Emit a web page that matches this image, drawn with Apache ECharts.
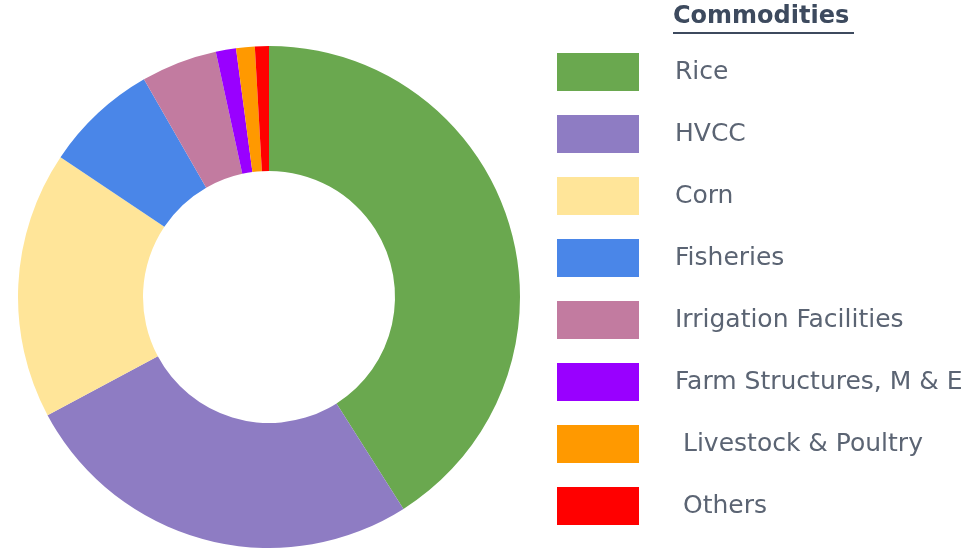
<!DOCTYPE html>
<html>
<head>
<meta charset="utf-8">
<script src="https://cdn.jsdelivr.net/npm/echarts@6/dist/echarts.min.js"></script>
<style>
  html, body { margin: 0; padding: 0; background: #fff; }
  #chart { width: 967px; height: 548px; }
</style>
</head>
<body>
<div id="chart"></div>
<script>
const commodities = ['Rice', 'HVCC', 'Corn', 'Fisheries', 'Irrigation Facilities',
    'Farm Structures, M & E', 'Livestock & Poultry', 'Others'];
const shares = [41.0, 26.2, 17.2, 7.3, 4.9, 1.3, 1.2, 0.9];
const colors = ['#6aa84f', '#8e7cc3', '#ffe599', '#4a86e8', '#c27ba0', '#9900ff', '#ff9900', '#ff0000'];
// these two labels sit a bit further right in the original
const indented = ['Livestock & Poultry', 'Others'];

const myChart = echarts.init(document.getElementById('chart'));

let pieData = commodities.map((name, i) => ({
    name: name,
    value: shares[i],
    itemStyle: { color: colors[i] },
}));

const option = {
    animation: false,
    textStyle: { fontFamily: 'DejaVu Sans' },
    graphic: [
        {
            type: 'text',
            left: 673,
            top: 5,
            style: {
                text: 'Commodities',
                font: 'bold 24px "DejaVu Sans"',
                fill: '#3d4a5e',
            },
        },
        {
            type: 'rect',
            shape: { x: 673, y: 32, width: 181, height: 2 },
            style: { fill: '#3d4a5e' },
        },
    ],
    legend: {
        orient: 'vertical',
        left: 552,
        top: 48,
        icon: 'rect',
        itemWidth: 82,
        itemHeight: 38,
        itemGap: 24,
        selectedMode: false,
        formatter: (name) => indented.includes(name) ? '{ind|' + name + '}' : name,
        textStyle: {
            fontSize: 25,
            color: '#5b6473',
            padding: [0, 0, 0, 31],
            rich: {
                ind: { fontSize: 25, color: '#5b6473', padding: [0, 0, 0, 8] },
            },
        },
    },
    series: [
        {
            type: 'pie',
            center: [269, 297],
            radius: [126, 251],
            startAngle: 90,
            clockwise: true,
            label: { show: false },
            labelLine: { show: false },
            emphasis: { disabled: true },
            data: pieData,
        },
    ],
};
option && myChart.setOption(option);
</script>
</body>
</html>
